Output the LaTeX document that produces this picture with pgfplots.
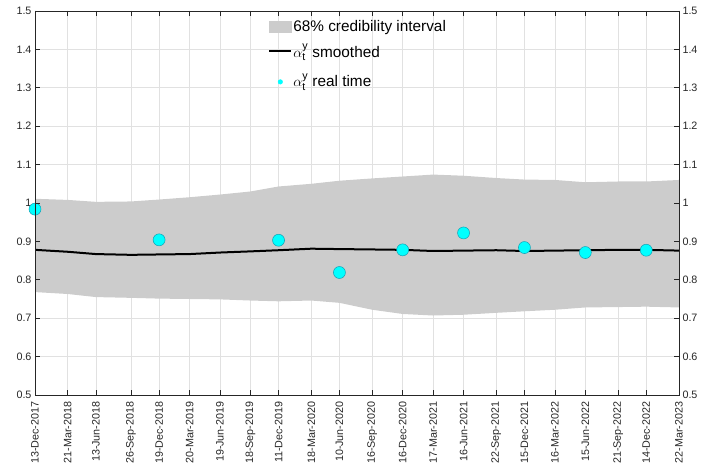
\documentclass[border=0pt]{standalone}
\usepackage{fontspec}
\setmainfont{Liberation Sans}
\usepackage{pgfplots}
\pgfplotsset{compat=1.18}
\usepackage{pgfplotstable}
\usepgfplotslibrary{fillbetween}
\usetikzlibrary{calc}
\definecolor{bandgray}{RGB}{204,204,204}
\definecolor{gridc}{RGB}{225,225,225}
\definecolor{axc}{RGB}{38,38,38}
\definecolor{dotfill}{RGB}{0,255,255}
\definecolor{dotedge}{RGB}{20,160,180}

% day offsets from 13-Dec-2017
\pgfplotstableread{
day upper lower smooth
0    1.011 0.768 0.878
98   1.008 0.763 0.873
182  1.003 0.755 0.867
287  1.004 0.753 0.865
371  1.009 0.751 0.866
462  1.015 0.750 0.867
553  1.022 0.749 0.871
644  1.030 0.746 0.874
728  1.043 0.744 0.877
826  1.050 0.746 0.881
910  1.058 0.740 0.880
1008 1.064 0.722 0.879
1099 1.069 0.711 0.878
1190 1.074 0.707 0.875
1281 1.071 0.709 0.876
1379 1.065 0.714 0.877
1463 1.061 0.718 0.875
1554 1.060 0.722 0.876
1645 1.054 0.728 0.877
1743 1.056 0.729 0.878
1827 1.056 0.730 0.878
1925 1.060 0.728 0.876
}\banddata

\pgfplotstableread{
day rt
0    0.984
371  0.904
728  0.903
910  0.819
1099 0.878
1281 0.922
1463 0.884
1645 0.871
1827 0.877
}\rtdata

\begin{document}
\begin{tikzpicture}
\pgfplotsset{
  common/.style={
    scale only axis, width=644bp, height=384bp,
    xmin=0, xmax=1925, ymin=0.5, ymax=1.5,
    ytick={0.5,0.6,0.7,0.8,0.9,1,1.1,1.2,1.3,1.4,1.5},
    xtick={0,98,182,287,371,462,553,644,728,826,910,1008,1099,1190,1281,1379,1463,1554,1645,1743,1827,1925},
    axis line style={axc, line width=0.6bp},
    tick style={axc, line width=0.6bp},
    major tick length=5bp,
    tick align=inside,
    /pgf/number format/assume math mode=true,
    yticklabel style={/pgf/number format/fixed, font=\fontsize{10.8}{12}\selectfont, text=axc},
  }
}
\begin{axis}[common, name=main,
  xticklabels={13-Dec-2017,21-Mar-2018,13-Jun-2018,26-Sep-2018,19-Dec-2018,20-Mar-2019,19-Jun-2019,18-Sep-2019,11-Dec-2019,18-Mar-2020,10-Jun-2020,16-Sep-2020,16-Dec-2020,17-Mar-2021,16-Jun-2021,22-Sep-2021,15-Dec-2021,16-Mar-2022,15-Jun-2022,21-Sep-2022,14-Dec-2022,22-Mar-2023},
  xticklabel style={rotate=90, anchor=east, font=\fontsize{10.8}{12}\selectfont, text=axc},
  xticklabel shift=3bp,
  grid=major, major grid style={gridc, line width=0.6bp},
  legend style={draw=none, fill=none, at={(rel axis cs:0.362,1)}, yshift=-9bp, anchor=north west,
    font=\fontsize{15.4}{17}\selectfont, text=black, inner sep=0pt, row sep=10bp,
    nodes={inner xsep=1bp, inner ysep=0.5bp}},
  legend cell align=left,
]
\addplot[name path=up, draw=none, forget plot] table[x=day, y=upper] {\banddata};
\addplot[name path=lo, draw=none, forget plot] table[x=day, y=lower] {\banddata};
\addplot[fill=bandgray, draw=none,
  legend image code/.code={\fill[bandgray] (0bp,-6.3bp) rectangle (23bp,6.3bp);}]
  fill between[of=up and lo];
\addlegendentry{68\% credibility interval}
\addplot[black, line width=2bp, no markers,
  legend image code/.code={\draw[black, line width=2bp] (0bp,0bp) -- (22bp,0bp);}]
  table[x=day, y=smooth] {\banddata};
\addlegendentry{$\alpha^{\mathrm{y}}_{\mathrm{t}}$ smoothed}
\addplot[only marks, mark=*, mark size=6bp, mark options={fill=dotfill, draw=dotedge, line width=0.5bp},
  legend image code/.code={\fill[dotfill] (11bp,-6bp) circle (2.3bp);}]
  table[x=day, y=rt] {\rtdata};
\addlegendentry{\raisebox{-6bp}[11bp][5bp]{$\alpha^{\mathrm{y}}_{\mathrm{t}}$ real time}}
\end{axis}
\begin{axis}[common,
  xticklabels={}, yticklabel pos=right,
]
\end{axis}
\pgfresetboundingbox
\path[use as bounding box] ($(main.south west)+(-35bp,-80bp)$) rectangle ($(main.north east)+(22bp,11bp)$);
\end{tikzpicture}
\end{document}
